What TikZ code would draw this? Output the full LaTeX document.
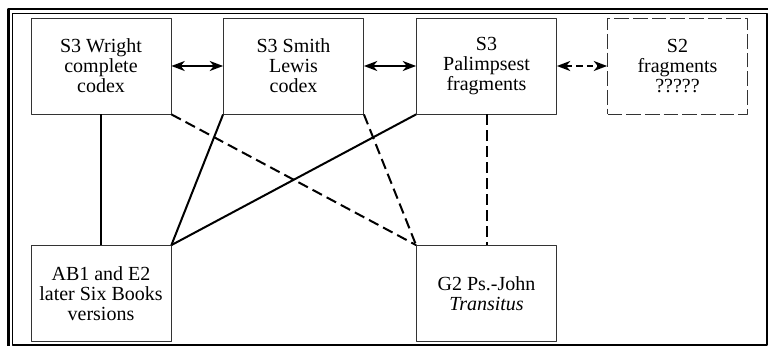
\documentclass[tikz,border=0pt]{standalone}
\usepackage{fontspec}
\setmainfont{Liberation Serif}
\usetikzlibrary{arrows.meta}
\begin{document}
\begin{tikzpicture}[x=0.75pt,y=-0.75pt,line join=round,
	>={Stealth[length=10pt,width=7.5pt,inset=3pt]},
	box/.style={draw=black!80,line width=0.6pt,minimum width=105pt,
		minimum height=72pt,align=center,inner sep=0pt,
		font=\fontsize{15}{15}\selectfont},
	dbox/.style={box,dash pattern=on 11pt off 3pt},
	link/.style={line width=1.5pt},
	dlink/.style={link,dash pattern=on 8pt off 4pt}]
	\useasboundingbox (0,0) rectangle (768,346);
	\draw[line width=2pt] (8.5,346)--(8.5,9)--(768,9);
	\draw[line width=0.8pt] (12.5,13.5) rectangle (767,345);
	\path (101,66)node[box](wr){S3 Wright\\complete\\codex}
	(293.5,66)node[box](sl){S3 Smith\\Lewis\\codex}
	(486.5,66)node[box](pa){S3\\Palimpsest\\fragments}
	(677.5,66)node[dbox](s2){S2\\fragments\\?????}
	;
	\path (101,293.5)node[box](ab){AB1 and E2\\later Six Books\\versions}
	(486.5,293.5)node[box](g2){G2 Ps.-John\\\textit{Transitus}}
	;
	\draw[link,<->](wr)--(sl);
	\draw[link,<->](sl)--(pa);
	\draw[link,<->,dash pattern=on 5pt off 3pt](pa)--(s2);
	\draw[link](wr.south)--(ab.north);
	\draw[dlink](wr.south east)--(g2.north west);
	\draw[link](sl.south west)--(ab.north east);
	\draw[dlink](sl.south east)--(g2.north west);
	\draw[link](pa.south west)--(ab.north east);
	\draw[dlink](pa.south)--(g2.north);
\end{tikzpicture}
\end{document}
